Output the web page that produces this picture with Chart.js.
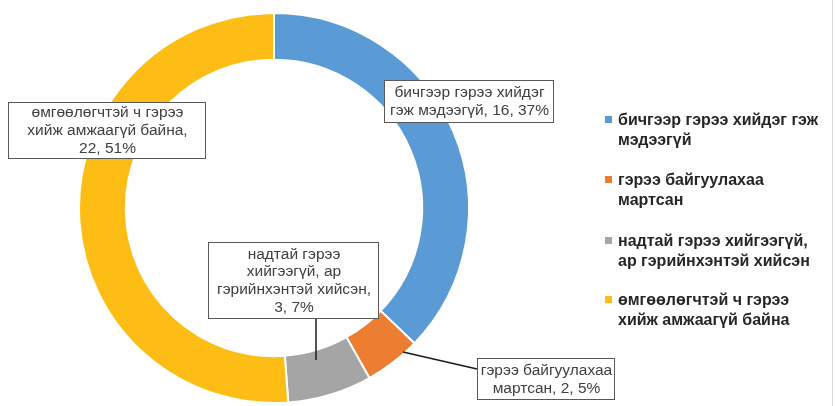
<!DOCTYPE html>
<html>
<head>
<meta charset="utf-8">
<script src="https://cdn.jsdelivr.net/npm/chart.js@4.4.0/dist/chart.umd.min.js"></script>
<style>
  html, body { margin: 0; padding: 0; background: #fff; }
  #wrap { width: 835px; height: 406px; position: relative; }
</style>
</head>
<body>
<div id="wrap"><canvas id="chart" width="835" height="406"></canvas></div>
<script>
// data
const categories = [
  "бичгээр гэрээ хийдэг гэж мэдээгүй",
  "гэрээ байгуулахаа мартсан",
  "надтай гэрээ хийгээгүй, ар гэрийнхэнтэй хийсэн",
  "өмгөөлөгчтэй ч гэрээ хийж амжаагүй байна"
];
const values = [16, 2, 3, 22];
const percents = ["37%", "5%", "7%", "51%"];
const colors = ["#5B9BD5", "#ED7D31", "#A5A5A5", "#FDBD14"];

// wrapped text for legend and data labels
const legendLines = [
  ["бичгээр гэрээ хийдэг гэж", "мэдээгүй"],
  ["гэрээ байгуулахаа", "мартсан"],
  ["надтай гэрээ хийгээгүй,", "ар гэрийнхэнтэй хийсэн"],
  ["өмгөөлөгчтэй ч гэрээ", "хийж амжаагүй байна"]
];
const labelLines = [
  ["бичгээр гэрээ хийдэг", "гэж мэдээгүй, " + values[0] + ", " + percents[0]],
  ["гэрээ байгуулахаа", "мартсан, " + values[1] + ", " + percents[1]],
  ["надтай гэрээ", "хийгээгүй, ар", "гэрийнхэнтэй хийсэн,", values[2] + ", " + percents[2]],
  ["өмгөөлөгчтэй ч гэрээ", "хийж амжаагүй байна,", values[3] + ", " + percents[3]]
];

// label box layout: x, y, w, h, leader line end (or null)
const labelBoxes = [
  { x: 384, y: 80, w: 169, h: 42, lead: null },
  { x: 477, y: 358, w: 137, h: 41, lead: [[477, 369], [403, 352]] },
  { x: 208, y: 242, w: 170, h: 76, lead: [[316, 318], [316, 360]] },
  { x: 8, y: 102, w: 197, h: 56, lead: null }
];

const labelPlugin = {
  id: "boxLabels",
  afterDraw(chart) {
    const ctx = chart.ctx;
    ctx.save();
    labelBoxes.forEach((b, i) => {
      if (b.lead) {
        ctx.strokeStyle = "#1a1a1a";
        ctx.lineWidth = 1.5;
        ctx.beginPath();
        ctx.moveTo(b.lead[0][0], b.lead[0][1]);
        ctx.lineTo(b.lead[1][0], b.lead[1][1]);
        ctx.stroke();
      }
      ctx.fillStyle = "#fff";
      ctx.fillRect(b.x, b.y, b.w, b.h);
      ctx.strokeStyle = "#595959";
      ctx.lineWidth = 1;
      ctx.strokeRect(b.x + 0.5, b.y + 0.5, b.w, b.h);
      const lines = labelLines[i];
      const lh = 17.8;
      const top = b.y + b.h / 2 - (lines.length - 1) * lh / 2 + 1;
      ctx.fillStyle = "#404040";
      ctx.font = "15.5px 'Liberation Sans', Arial, sans-serif";
      ctx.textAlign = "center";
      ctx.textBaseline = "middle";
      lines.forEach((t, k) => ctx.fillText(t, b.x + b.w / 2 + 1, top + k * lh));
    });

    // legend
    const legendY = [120, 180, 241, 300];
    ctx.font = "bold 16px 'Liberation Sans', Arial, sans-serif";
    ctx.textAlign = "left";
    ctx.textBaseline = "middle";
    categories.forEach((c, i) => {
      ctx.fillStyle = colors[i];
      ctx.fillRect(605, legendY[i] - 4, 7, 7);
      ctx.fillStyle = "#262626";
      legendLines[i].forEach((t, k) => ctx.fillText(t, 618, legendY[i] + 1 + k * 20));
    });
    ctx.strokeStyle = "#d9d9d9";
    ctx.beginPath();
    ctx.moveTo(832.5, 0);
    ctx.lineTo(832.5, 406);
    ctx.stroke();
    ctx.restore();
  }
};

new Chart(document.getElementById("chart"), {
  type: "doughnut",
  data: {
    labels: categories,
    datasets: [{
      data: values,
      backgroundColor: colors,
      borderColor: "#ffffff",
      borderWidth: 2
    }]
  },
  options: {
    responsive: false,
    animation: false,
    cutout: "76%",
    layout: { padding: { left: 78, right: 365, top: 12, bottom: 2 } },
    plugins: {
      legend: { display: false },
      tooltip: { enabled: false }
    }
  },
  plugins: [labelPlugin]
});
</script>
</body>
</html>
